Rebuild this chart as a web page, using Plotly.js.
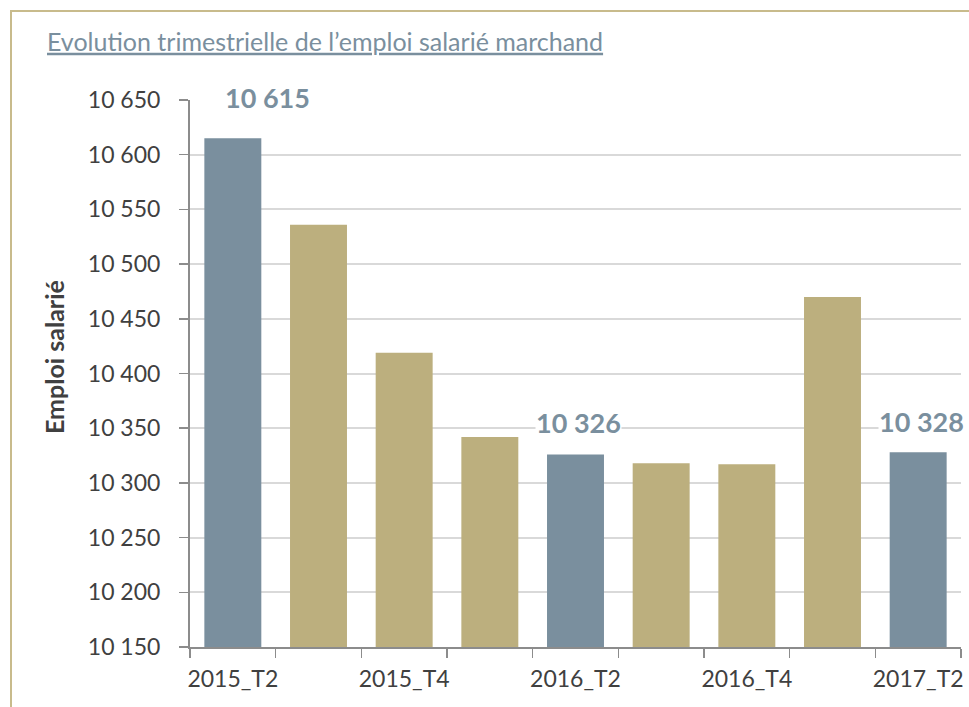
<!DOCTYPE html>
<html>
<head>
<meta charset="utf-8">
<script src="https://cdn.plot.ly/plotly-3.0.1.min.js"></script>
<style>
  html, body { margin: 0; padding: 0; background: #ffffff; }
  #chart { width: 969px; height: 707px; }
</style>
</head>
<body>
<div id="chart"></div>
<script>
// ---- Data ----
const categories = ['2015_T2', '2015_T3', '2015_T4', '2016_T1', '2016_T2', '2016_T3', '2016_T4', '2017_T1', '2017_T2'];
const values = [10615, 10536, 10419, 10342, 10326, 10318, 10317, 10470, 10328];
const highlighted = [true, false, false, false, true, false, false, false, true];
const tickLabels = ['2015_T2', '', '2015_T4', '', '2016_T2', '', '2016_T4', '', '2017_T2'];
const yTickValues = [10150, 10200, 10250, 10300, 10350, 10400, 10450, 10500, 10550, 10600, 10650];
const chartTitle = 'Evolution trimestrielle de l’emploi salarié marchand';
const yTitle = 'Emploi salarié';

// ---- Styles ----
const SLATE = '#7a8f9e';
const TAN = '#bcaf7e';
const FRAME = '#c8bb8c';
const FONT = 'Lato, "Open Sans", sans-serif';
const W = 969, H = 707, ML = 190, MR = 8, MT = 100, MB = 60;
const pw = W - ML - MR, ph = H - MT - MB;
const px = v => (v - ML) / pw;
const py = v => (H - MB - v) / ph;

function fmt(v) {
  return String(v).replace(/\B(?=(\d{3})+(?!\d))/g, ' ');
}

const trace = {
  type: 'bar',
  x: categories,
  y: values,
  marker: { color: highlighted.map(h => h ? SLATE : TAN), line: { width: 0 } },
  width: 0.665,
  hoverinfo: 'x+y'
};

const labelShifts = [[35, 41], null, null, null, [3, 32], null, null, null, [3, 31]];
const annotations = [];
categories.forEach((c, i) => {
  if (!highlighted[i]) return;
  annotations.push({
    x: c, y: values[i], xref: 'x', yref: 'y',
    text: '<b>' + fmt(values[i]) + '</b>',
    showarrow: false,
    xanchor: 'center', yanchor: 'middle',
    xshift: labelShifts[i][0], yshift: labelShifts[i][1],
    bgcolor: '#ffffff', borderpad: 0,
    font: { family: FONT, size: 27, color: SLATE }
  });
});
// y-axis title (placed as rotated text, as in the reference)
annotations.push({
  xref: 'paper', yref: 'paper', x: px(54), y: py(357),
  xanchor: 'center', yanchor: 'middle',
  text: '<b>' + yTitle + '</b>', textangle: -90, showarrow: false,
  font: { family: FONT, size: 25, color: '#404040' }
});

const layout = {
  width: W, height: H,
  margin: { l: ML, r: MR, t: MT, b: MB },
  paper_bgcolor: '#ffffff',
  plot_bgcolor: '#ffffff',
  separators: ', ',
  showlegend: false,
  title: {
    text: chartTitle,
    xref: 'container', yref: 'container',
    x: 47 / W, xanchor: 'left',
    y: 1 - 42 / H, yanchor: 'middle',
    font: { family: FONT, size: 25, color: SLATE, lineposition: 'under' }
  },
  xaxis: {
    type: 'category',
    tickmode: 'array',
    tickvals: categories,
    ticktext: tickLabels,
    tickson: 'boundaries',
    tickangle: 0,
    ticks: 'outside', ticklen: 9, tickwidth: 1.5, tickcolor: '#8c8c8c',
    showline: true, linecolor: '#8c8c8c', linewidth: 2,
    showgrid: false, zeroline: false,
    range: [-0.5, 8.5],
    tickfont: { family: FONT, size: 23, color: '#404040' },
    ticklabelstandoff: 10
  },
  yaxis: {
    range: [10150, 10650],
    tickmode: 'array',
    tickvals: yTickValues,
    tickformat: ',d',
    ticks: 'outside', ticklen: 9, tickwidth: 1.5, tickcolor: '#8c8c8c',
    showline: true, linecolor: '#8c8c8c', linewidth: 2,
    showgrid: true, gridcolor: '#d9d9d9', gridwidth: 2,
    zeroline: false,
    tickfont: { family: FONT, size: 23, color: '#404040' },
    ticklabelstandoff: 14,
    automargin: false
  },
  annotations: annotations,
  shapes: [
    { type: 'line', xref: 'paper', yref: 'paper', x0: px(11), x1: px(11), y0: py(H + 5), y1: py(11),
      line: { color: FRAME, width: 2 } },
    { type: 'line', xref: 'paper', yref: 'paper', x0: px(10), x1: px(W + 5), y0: py(11), y1: py(11),
      line: { color: FRAME, width: 2 } }
  ]
};

Plotly.newPlot('chart', [trace], layout, { displayModeBar: false, staticPlot: true });
</script>
</body>
</html>
